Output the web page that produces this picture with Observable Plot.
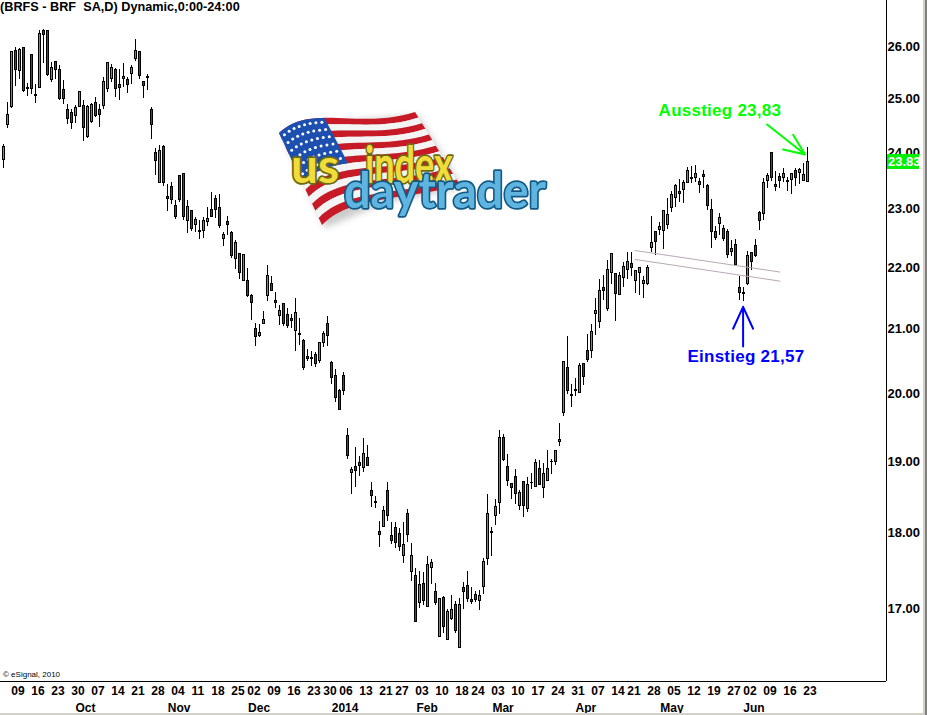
<!DOCTYPE html>
<html><head><meta charset="utf-8">
<script src="https://cdn.jsdelivr.net/npm/d3@7"></script>
<script src="https://cdn.jsdelivr.net/npm/@observablehq/plot@0.6"></script>
<style>html,body{margin:0;padding:0;background:#fff;overflow:hidden}svg{display:block}</style>
</head><body><div id="chart"></div>
<script>
const high=[24.15,24.92,25.90,25.97,25.95,25.97,25.29,25.84,25.27,26.32,
26.33,26.32,25.69,25.71,25.62,25.34,24.88,24.78,24.87,25.12,
24.96,24.86,24.90,25.01,24.88,25.39,25.68,25.64,25.57,25.56,
25.66,25.40,25.62,26.14,25.91,25.32,25.46,24.82,24.06,24.13,
24.13,23.42,23.45,23.14,23.58,23.61,23.14,22.96,22.85,22.80,
22.85,23.02,23.28,23.23,23.25,22.59,22.86,22.60,22.45,22.23,
22.20,21.98,21.55,21.09,21.07,21.28,22.03,21.84,21.58,21.37,
21.41,21.32,21.22,21.49,21.17,20.83,20.67,20.64,20.63,20.78,
20.95,21.20,20.49,20.36,20.05,20.31,19.47,18.90,19.20,19.07,
19.32,19.23,18.69,18.49,18.15,18.35,18.69,18.14,18.14,18.05,
18.13,18.32,17.85,17.52,17.47,17.46,17.68,17.63,17.32,17.12,
17.15,16.98,17.16,17.08,17.12,17.33,17.47,17.27,17.21,17.22,
17.65,18.53,18.07,18.45,19.44,19.38,19.10,18.67,18.88,18.58,
18.70,18.77,18.82,19.02,19.00,18.97,19.15,19.02,19.15,19.54,
20.49,20.88,20.13,20.23,20.45,20.46,20.91,21.06,21.49,21.80,
21.87,22.12,22.23,21.90,21.91,22.08,22.25,22.25,21.95,21.98,
21.84,22.03,22.86,22.61,22.76,22.95,23.17,23.29,23.42,23.51,
23.49,23.73,23.74,23.76,23.52,23.67,23.42,23.16,22.69,22.92,
22.71,22.64,22.45,22.47,21.85,21.66,22.26,22.25,22.47,22.95,
23.52,23.62,23.98,23.65,23.61,23.70,23.54,23.62,23.70,23.71,
23.80,24.08];
const open=[23.86,24.50,24.84,25.91,25.52,25.97,25.20,25.84,25.07,25.19,
26.31,26.31,25.35,25.70,25.54,25.16,24.78,24.72,24.66,24.84,
24.86,24.27,24.56,24.92,24.78,24.86,25.18,25.36,25.54,25.25,
25.36,25.35,25.46,25.75,25.90,25.31,25.41,24.78,23.98,23.45,
24.10,23.20,23.38,23.05,23.58,23.61,22.78,22.95,22.71,22.60,
22.62,22.77,22.98,23.17,23.00,22.47,22.76,22.57,22.14,22.22,
21.78,21.77,21.52,20.99,20.88,21.08,21.53,21.72,21.45,21.21,
21.40,21.22,21.15,20.97,20.90,20.80,20.55,20.54,20.59,20.50,
20.78,21.07,20.46,20.26,20.03,20.26,19.36,18.83,18.92,18.97,
18.90,19.04,18.57,18.42,18.00,18.07,18.57,17.95,18.06,17.98,
17.68,18.25,17.47,17.42,17.07,17.31,17.01,17.52,17.21,16.63,
17.13,16.59,16.86,17.04,16.49,17.26,17.28,17.10,17.17,17.09,
17.27,17.64,18.00,18.22,18.40,19.33,18.92,18.67,18.77,18.36,
18.70,18.32,18.68,18.63,18.88,18.62,18.71,18.98,18.99,19.27,
19.70,20.38,19.98,20.04,20.01,20.45,20.65,20.65,21.23,21.10,
21.65,21.32,21.91,21.88,21.55,21.82,21.96,22.05,21.78,21.91,
21.73,21.72,22.32,22.59,22.63,22.61,22.71,23.00,23.19,23.28,
23.33,23.45,23.51,23.53,23.46,23.59,23.40,22.97,22.59,22.74,
22.64,22.59,22.25,22.37,21.66,21.56,21.73,22.24,22.35,22.93,
22.90,23.49,23.98,23.42,23.56,23.53,23.47,23.50,23.66,23.63,
23.48,23.47];
const close=[24.09,24.69,25.89,25.54,25.93,25.13,25.17,25.18,25.05,26.25,
26.23,25.44,25.58,25.54,24.99,24.99,24.61,24.54,24.82,25.11,
24.45,24.84,24.88,24.67,24.69,25.31,25.68,25.58,25.18,25.19,
25.41,25.25,25.58,25.92,25.43,25.23,25.39,24.50,23.85,24.03,
23.44,23.17,23.15,22.85,23.14,22.86,23.03,22.64,22.80,22.61,
22.78,22.82,22.86,22.98,22.69,22.54,22.71,22.18,22.40,21.91,
22.20,21.53,21.42,20.87,20.93,21.14,21.85,21.60,21.42,21.28,
21.07,21.05,21.13,21.25,20.91,20.38,20.53,20.52,20.44,20.78,
20.91,20.88,20.23,19.93,19.74,20.03,19.07,18.87,18.86,18.93,
19.10,18.93,18.51,18.40,17.96,18.29,18.22,17.88,17.85,17.80,
17.83,17.96,17.68,16.82,17.30,17.09,17.56,17.59,17.06,17.12,
16.76,16.95,16.98,16.71,17.04,17.21,17.11,17.08,17.10,17.16,
17.60,18.25,17.99,18.35,19.33,19.01,18.71,18.62,18.53,18.54,
18.36,18.66,18.69,18.97,18.66,18.82,18.88,18.99,19.15,19.31,
20.48,20.04,19.95,20.05,20.42,20.24,20.51,20.94,21.28,21.60,
21.60,21.95,22.22,21.56,21.85,22.00,22.09,21.98,21.93,21.98,
21.77,21.98,22.40,22.42,22.68,22.95,22.88,23.24,23.40,23.25,
23.44,23.66,23.53,23.61,23.41,23.55,23.05,22.59,22.49,22.83,
22.47,22.20,22.30,22.03,21.58,21.57,22.19,22.09,22.18,22.79,
23.44,23.57,23.53,23.38,23.49,23.61,23.48,23.61,23.54,23.68,
23.59,23.83];
const low=[23.71,24.43,24.81,25.23,25.35,25.11,25.03,25.07,24.91,25.18,
25.67,25.42,25.30,25.35,24.96,24.88,24.51,24.42,24.52,24.82,
24.20,24.25,24.53,24.64,24.45,24.78,25.11,25.30,25.02,24.96,
25.21,25.09,25.26,25.71,25.35,25.00,25.15,24.24,23.58,23.44,
23.39,22.94,23.07,22.81,23.11,22.80,22.57,22.60,22.59,22.46,
22.49,22.68,22.84,22.83,22.66,22.35,22.53,22.14,21.97,21.79,
21.78,21.50,21.13,20.72,20.86,21.07,21.44,21.60,21.32,21.05,
21.04,21.00,21.01,20.64,20.73,20.34,20.49,20.41,20.39,20.45,
20.71,20.72,20.13,19.86,19.74,19.97,19.02,18.53,18.62,18.78,
18.84,18.93,18.34,18.33,17.80,18.07,18.15,17.84,17.78,17.74,
17.58,17.86,17.34,16.81,16.99,17.03,17.00,17.31,17.03,16.63,
16.68,16.59,16.84,16.68,16.49,16.98,17.07,17.04,17.07,16.97,
17.17,17.55,17.68,18.09,18.24,18.99,18.63,18.45,18.39,18.30,
18.21,18.27,18.60,18.62,18.65,18.47,18.71,18.81,18.93,19.21,
19.65,19.98,19.79,19.95,20.01,20.12,20.47,20.53,20.89,21.01,
21.46,21.28,21.71,21.12,21.54,21.67,21.80,21.85,21.56,21.53,
21.48,21.69,22.25,22.20,22.53,22.29,22.63,22.93,23.01,23.10,
23.08,23.44,23.44,23.45,23.26,23.35,22.96,22.32,22.45,22.54,
22.43,22.14,22.18,22.01,21.46,21.43,21.69,21.94,22.17,22.62,
22.79,23.35,23.48,23.30,23.35,23.46,23.29,23.25,23.38,23.42,
23.48,23.45];

const priceTicks=[26,25,24,23,22,21,20,19,18,17];
const lastPrice=23.83;
const dayLabels=["09","16","23","30","07","14","21","28","04","11","18","25","02","09","16","23","30","06","13","21","27","03","10","18","24","03","10","17","24","31","07","14","21","28","05","12","19","27","02","09","16","23"];
const dayBars=[3,8,13,18,23,28,33,38,43,48,53,58,62,67,72,77,81,85,90,95,99,104,109,114,118,123,128,133,138,143,148,153,157,162,167,172,177,182,186,191,196,201];
const monthLabels=["Oct","Nov","Dec","2014","Feb","Mar","Apr","May","Jun"];
const monthBars=[20.5,43.9,63.9,85.4,105.9,124.9,145.6,167.1,187.6];
const trendUpperBars=[157.9,194.1], trendUpperPrices=[22.28,21.92];
const trendLowerBars=[157.9,194.1], trendLowerPrices=[22.13,21.77];
const exitArrowBars=[190.9,200.4,197.4,200.4,194.9], exitArrowPrices=[24.51,23.96,24.32,23.96,24.05];
const entryArrowBars=[184.9,184.9,182.4,184.9,187.4], entryArrowPrices=[20.72,21.35,21.0,21.35,21.0];

const bars=high.map((h,i)=>({i,h,o:open[i],c:close[i],l:low[i]}));
const toRows=(xs,ys)=>xs.map((x,k)=>({x,y:ys[k]}));
const FONT='"Liberation Sans",Arial,sans-serif';
const GREEN="#00e000",RED="#d01010";
const baseX=-0.75;

const plot=Plot.plot({
  width:927,height:715,marginTop:0,marginLeft:0,marginBottom:34,marginRight:41,
  style:{background:"#fff",fontFamily:FONT,overflow:"hidden"},
  x:{type:"linear",domain:[baseX,baseX+886/4],axis:null},
  y:{type:"log",domain:[16.08,26.92],range:[681,0],axis:null},
  marks:[
    Plot.ruleX(bars,{x:"i",y1:"l",y2:"h",stroke:"#000",strokeWidth:1,shapeRendering:"crispEdges"}),
    Plot.rect(bars,{x1:d=>d.i-0.25,x2:d=>d.i+0.25,y1:"o",y2:"c",dx:0.5,fill:d=>d.c>=d.o?GREEN:RED,stroke:"#000",strokeWidth:1,shapeRendering:"crispEdges"}),
    Plot.line(toRows(trendUpperBars,trendUpperPrices),{x:"x",y:"y",stroke:"#b8a8b8",strokeWidth:1}),
    Plot.line(toRows(trendLowerBars,trendLowerPrices),{x:"x",y:"y",stroke:"#b8a8b8",strokeWidth:1}),
    Plot.line(toRows(exitArrowBars,exitArrowPrices),{x:"x",y:"y",stroke:"#00ff00",strokeWidth:2,curve:"linear"}),
    Plot.line(toRows(entryArrowBars,entryArrowPrices),{x:"x",y:"y",stroke:"#0000ff",strokeWidth:2,curve:"linear"}),
    Plot.text(["Ausstieg 23,83"],{x:[179.1],y:[24.77],text:d=>d,fill:"#00ff00",fontWeight:"bold",fontSize:17,textAnchor:"middle"}),
    Plot.text(["Einstieg 21,57"],{x:[185.6],y:[20.57],text:d=>d,fill:"#0000ff",fontWeight:"bold",fontSize:17,textAnchor:"middle"}),
    Plot.axisY({ticks:priceTicks,anchor:"right",tickSize:0,tickPadding:0,tickFormat:d=>d3.format(".2f")(d),fontSize:13,fontWeight:"bold",textAnchor:"start",dx:1,dy:0.5,label:null,fill:"#000"}),
    Plot.text(dayLabels,{x:(d,k)=>dayBars[k],frameAnchor:"bottom",dy:13,dx:2.4,fontSize:12,fontWeight:"bold",fill:"#000",text:d=>d,lineAnchor:"bottom"}),
    Plot.text(monthLabels,{x:(d,k)=>monthBars[k],frameAnchor:"bottom",dy:30,fontSize:12,fontWeight:"bold",fill:"#000",text:d=>d,lineAnchor:"bottom"}),
    Plot.ruleX([baseX+886/4],{stroke:"#000",shapeRendering:"crispEdges"}),
    Plot.ruleY([16.08],{stroke:"#000",shapeRendering:"crispEdges"}),
  ]
});
const svg=d3.select(plot);
const over=svg.append("g").attr("text-anchor","start");
svg.selectAll("text").filter(function(){return this.textContent==="Ausstieg 23,83"||this.textContent==="Einstieg 21,57";}).attr("letter-spacing",0.25);
// right price marker
over.append("rect").attr("x",887).attr("y",154).attr("width",32).attr("height",15).attr("fill","#00f000");
over.append("text").attr("x",888).attr("y",166).attr("font-size",13).attr("font-weight","bold").attr("fill","#fff").attr("font-family",FONT).text(d3.format(".2f")(lastPrice));
// header + copyright
over.append("text").attr("x",0).attr("y",11).attr("font-size",12.7).attr("font-weight","bold").attr("font-family",FONT).attr("fill","#000").style("white-space","pre").text("(BRFS - BRF  SA,D) Dynamic,0:00-24:00");
over.append("text").attr("x",3).attr("y",677).attr("font-size",8).attr("font-family",FONT).attr("fill","#000").text("© eSignal, 2010");
// window edges
over.append("rect").attr("x",923).attr("y",0).attr("width",2).attr("height",713).attr("fill","#d4d0c8");
over.append("rect").attr("x",925).attr("y",0).attr("width",2).attr("height",715).attr("fill","#808080");
over.append("rect").attr("x",0).attr("y",713).attr("width",925).attr("height",2).attr("fill","#d4d0c8");

// logo flag: bilinear patch with waving edges
const logo=over.append("g");
const bez=(p,t)=>{const u=1-t;return [u*u*u*p[0][0]+3*u*u*t*p[1][0]+3*u*t*t*p[2][0]+t*t*t*p[3][0],u*u*u*p[0][1]+3*u*u*t*p[1][1]+3*u*t*t*p[2][1]+t*t*t*p[3][1]];};
const topEdge=[[279,133],[310,103],[360,130],[415,112]];
const botEdge=[[322,225],[350,195],[410,200],[460,185]];
const P=(u,v)=>{const a=bez(topEdge,u),b=bez(botEdge,u);return [a[0]+(b[0]-a[0])*v,a[1]+(b[1]-a[1])*v];};
const band=(u0,u1,v0,v1,fill)=>{const pts=[];for(let k=0;k<=24;k++)pts.push(P(u0+(u1-u0)*k/24,v0));for(let k=24;k>=0;k--)pts.push(P(u0+(u1-u0)*k/24,v1));logo.append("path").attr("d","M"+pts.map(p=>p.join(",")).join("L")+"Z").attr("fill",fill);};
logo.append("path").attr("d","M"+[P(0,0),P(.5,0),P(1,0),P(1,1),P(.5,1),P(0,1)].map(p=>[p[0]+3,p[1]+3].join(",")).join("L")+"Z").attr("fill","#ccc").attr("filter","blur(3px)");
for(let s=0;s<13;s++)band(0,1,s/13,(s+1)/13,s%2?"#f4f4f4":"#c81a26");
band(0,.4,0,7/13,"#1d4fb0");
for(let a=0;a<8;a++)for(let b=0;b<6;b++){const p=P(.035+a*.047,.05+b*.085);logo.append("circle").attr("cx",p[0]).attr("cy",p[1]).attr("r",1.5).attr("fill","#fff");}
const word=(t,x,y,size,len,fill,edge)=>{logo.append("text").attr("x",x).attr("y",y).attr("font-family","Lato,"+FONT).attr("font-weight","bold").attr("font-size",size).attr("textLength",len).attr("lengthAdjust","spacingAndGlyphs").attr("fill",fill).attr("stroke",edge).attr("stroke-width",3.5).attr("paint-order","stroke").attr("stroke-linejoin","round").text(t);};
word("us",291,183,48,48,"#f2dc3c","#6b6a10");
word("index",365,183,52,88,"#f2dc3c","#6b6a10");
word("daytrader",344,208,50,202,"#5fb4e0","#125a86");
document.getElementById("chart").append(plot);
</script></body></html>
